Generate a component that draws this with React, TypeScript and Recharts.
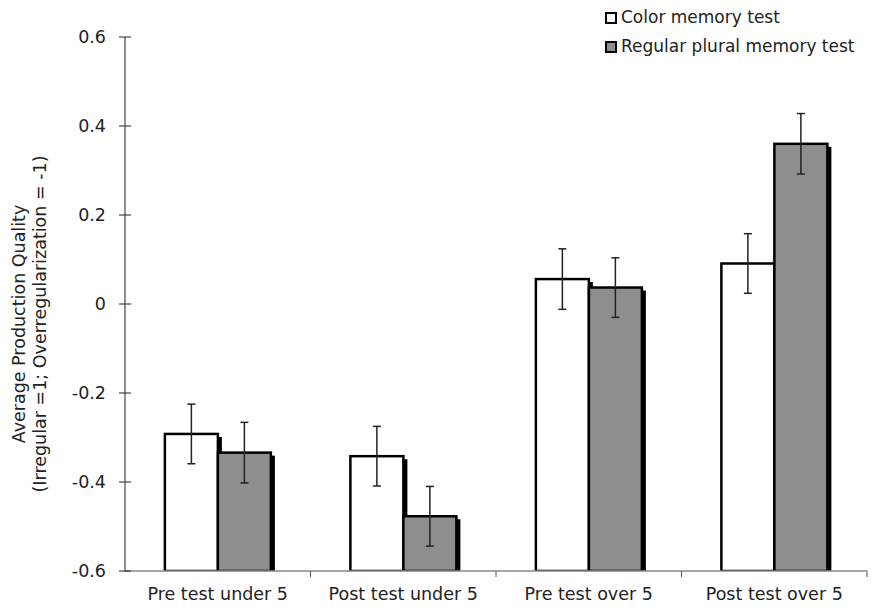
import React from 'react';
import { BarChart, Bar, XAxis, YAxis, Legend } from 'recharts';

const categories = ['Pre test under 5', 'Post test under 5', 'Pre test over 5', 'Post test over 5'];
const colorMemory = [-0.292, -0.342, 0.056, 0.091];
const colorErr = [0.067, 0.067, 0.068, 0.067];
const pluralMemory = [-0.334, -0.477, 0.037, 0.36];
const pluralErr = [0.068, 0.067, 0.067, 0.068];
const yTicks = [-0.6, -0.4, -0.2, 0, 0.2, 0.4, 0.6];
const seriesNames = ['Color memory test', 'Regular plural memory test'];
const BASE = -0.6;

const data = categories.map((c, i) => ({
  name: c,
  color: colorMemory[i],
  colorErr: colorErr[i],
  plural: pluralMemory[i],
  pluralErr: pluralErr[i],
}));

const FONT = '"DejaVu Sans", Verdana, sans-serif';

function makeShape(valKey: string, errKey: string, fill: string) {
  return (props: any) => {
    const { x, y, width, height, payload } = props;
    const v = payload[valKey];
    const e = payload[errKey];
    const pxPerUnit = height / (v - BASE);
    const cx = x + width / 2;
    const ey1 = y - e * pxPerUnit;
    const ey2 = y + e * pxPerUnit;
    return (
      <g>
        <rect x={x + 4} y={y + 3} width={width} height={Math.max(0, height - 3)} fill="#000" />
        <rect x={x} y={y} width={width} height={height} fill={fill} stroke="#000" strokeWidth={2.5} />
        <line x1={cx} x2={cx} y1={ey1} y2={ey2} stroke="#222" strokeWidth={1.5} />
        <line x1={cx - 4} x2={cx + 4} y1={ey1} y2={ey1} stroke="#222" strokeWidth={1.5} />
        <line x1={cx - 4} x2={cx + 4} y1={ey2} y2={ey2} stroke="#222" strokeWidth={1.5} />
      </g>
    );
  };
}

const YTick = (props: any) => {
  const { x, y, payload } = props;
  return (
    <g>
      <line x1={x - 6} x2={x + 6} y1={y} y2={y} stroke="#222" strokeWidth={1} />
      <text x={x - 19} y={y} dy={6} textAnchor="end" fontSize={17.5} fontFamily={FONT} fill="#222">
        {String(payload.value)}
      </text>
    </g>
  );
};

const XTick = (props: any) => {
  const { x, y, payload, visibleTicksCount, width } = props;
  const band = width / visibleTicksCount;
  return (
    <g>
      <line x1={x + band / 2} x2={x + band / 2} y1={y} y2={y + 6} stroke="#555" strokeWidth={1} />
      <text x={x} y={y + 29} textAnchor="middle" fontSize={17.5} fontFamily={FONT} fill="#222">
        {payload.value}
      </text>
    </g>
  );
};

const LegendContent = () => (
  <div style={{ fontFamily: FONT, fontSize: 17, color: '#222', lineHeight: '29px' }}>
    {seriesNames.map((n, i) => (
      <div key={n} style={{ display: 'flex', alignItems: 'center', whiteSpace: 'nowrap' }}>
        <span
          style={{
            display: 'inline-block',
            width: 8,
            height: 8,
            border: '2.5px solid #000',
            background: i === 0 ? '#fff' : '#8e8e8e',
            marginRight: 4,
          }}
        />
        {n}
      </div>
    ))}
  </div>
);

export default function App() {
  return (
    <div style={{ position: 'absolute', left: 0, top: 0, background: '#fff' }}>
      <BarChart
        width={882}
        height={610}
        data={data}
        margin={{ top: 37, right: 15, bottom: 0, left: 0 }}
        barCategoryGap="21.5%"
        barGap={0}
      >
        <XAxis
          dataKey="name"
          axisLine={{ stroke: '#888', strokeWidth: 1.5 }}
          tickLine={false}
          tick={<XTick />}
          tickSize={0}
          tickMargin={0}
          interval={0}
          height={39}
        />
        <YAxis
          type="number"
          domain={[-0.6, 0.6]}
          ticks={yTicks}
          width={125}
          axisLine={{ stroke: '#222', strokeWidth: 1 }}
          tickLine={false}
          tickSize={0}
          tickMargin={0}
          tick={<YTick />}
          allowDataOverflow
          label={{
            content: () => (
              <text
                transform="translate(25, 324) rotate(-90)"
                textAnchor="middle"
                fontSize={17.5}
                fontFamily={FONT}
                fill="#222"
              >
                <tspan x={0} dy={0}>Average Production Quality</tspan>
                <tspan x={0} dy={21}>(Irregular =1; Overregularization = -1)</tspan>
              </text>
            ),
          }}
        />
        <Legend
          layout="vertical"
          verticalAlign="middle"
          align="center"
          content={<LegendContent />}
          wrapperStyle={{ position: 'absolute', top: 3, left: 605, width: 277 }}
        />
        <Bar
          dataKey={(d: any) => [BASE, d.color]}
          name={seriesNames[0]}
          fill="#fff"
          isAnimationActive={false}
          shape={makeShape('color', 'colorErr', '#fff')}
        />
        <Bar
          dataKey={(d: any) => [BASE, d.plural]}
          name={seriesNames[1]}
          fill="#8e8e8e"
          isAnimationActive={false}
          shape={makeShape('plural', 'pluralErr', '#8e8e8e')}
        />
      </BarChart>
    </div>
  );
}
